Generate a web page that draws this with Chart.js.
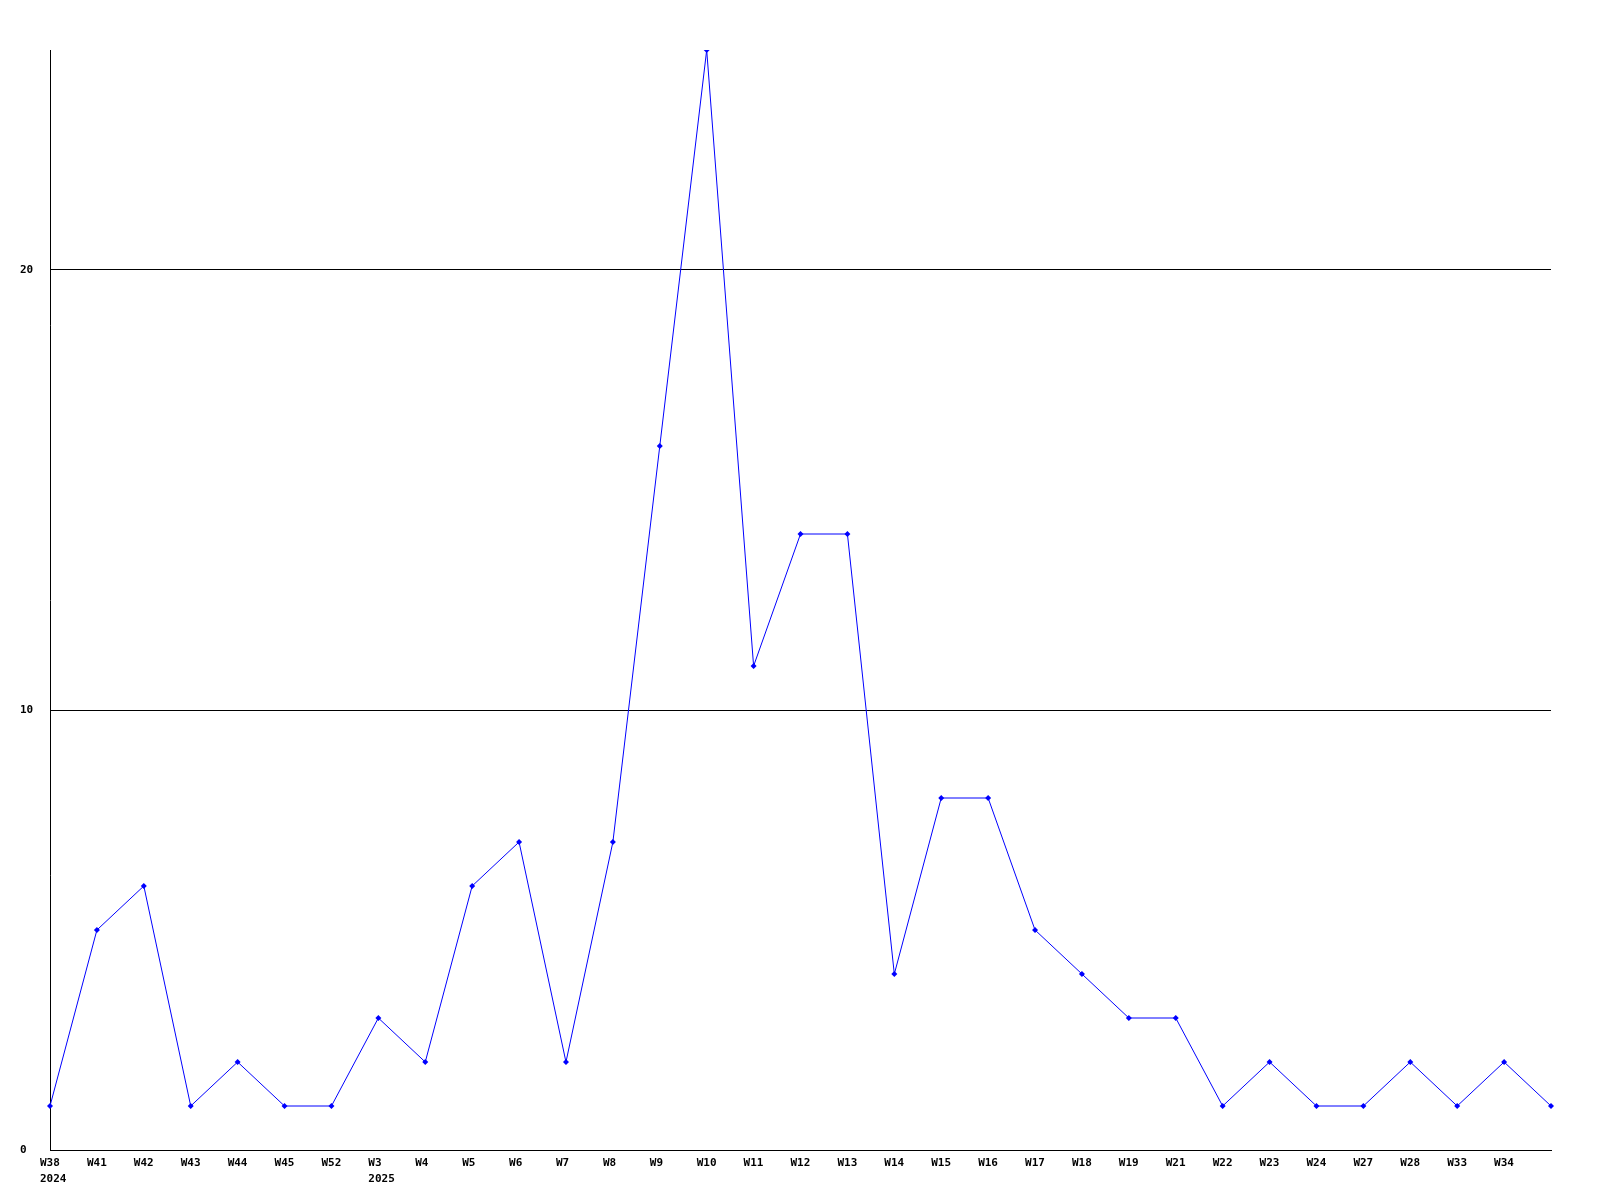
<!DOCTYPE html>
<html>
<head>
<meta charset="utf-8">
<script src="https://cdn.jsdelivr.net/npm/chart.js@4/dist/chart.umd.min.js"></script>
<style>
html,body{margin:0;padding:0;background:#fff;}
#wrap{width:1600px;height:1200px;}
</style>
</head>
<body>
<div id="wrap"><canvas id="c" width="1600" height="1200"></canvas></div>
<script>
const weeks = ['W38','W41','W42','W43','W44','W45','W52','W3','W4','W5','W6','W7','W8','W9','W10','W11','W12','W13','W14','W15','W16','W17','W18','W19','W21','W22','W23','W24','W27','W28','W33','W34',''];
const yearLabels = {0:'2024', 7:'2025'};
const counts = [1,5,6,1,2,1,1,3,2,6,7,2,7,16,25,11,14,14,4,8,8,5,4,3,3,1,2,1,1,2,1,2,1];
const yTicks = [0,10,20];

const labels = weeks.map((w,i) => yearLabels[i] ? [w, yearLabels[i]] : w);
const fontStr = 'bold 11px "DejaVu Sans Mono", monospace';
const font = {family:'"DejaVu Sans Mono", monospace', size:11, weight:'bold'};

const xLabelPlugin = {
  id:'xLabels',
  afterDraw(chart){
    const ctx = chart.ctx;
    const xs = chart.scales.x;
    ctx.save();
    ctx.font = fontStr;
    ctx.fillStyle = '#000';
    ctx.textAlign = 'left';
    ctx.textBaseline = 'middle';
    chart.data.labels.forEach((lab, i) => {
      const px = xs.getPixelForTick(i) - 10;
      const lines = Array.isArray(lab) ? lab : [lab];
      lines.forEach((t, j) => {
        ctx.fillText(t, px, xs.top + 13 + j * 16);
      });
    });
    ctx.restore();
  }
};

new Chart(document.getElementById('c'), {
  type:'line',
  data:{
    labels: labels,
    datasets:[{
      data: counts,
      borderColor:'#0000ff',
      backgroundColor:'#0000ff',
      borderWidth:1,
      pointStyle:'rectRot',
      pointRadius:3,
      pointBorderWidth:0,
      tension:0,
      fill:false
    }]
  },
  plugins:[xLabelPlugin],
  options:{
    responsive:false,
    animation:false,
    devicePixelRatio:1,
    layout:{padding:{left:20,top:50,right:49,bottom:0}},
    plugins:{legend:{display:false},tooltip:{enabled:false}},
    scales:{
      x:{
        offset:false,
        grid:{display:false, drawTicks:false},
        border:{display:true,color:'#000',width:1},
        ticks:{display:false,autoSkip:false,maxRotation:0,minRotation:0},
        afterFit(s){ s.height = 50; }
      },
      y:{
        min:0,max:25,
        grid:{color:'#000',lineWidth:1,drawTicks:false},
        border:{display:true,color:'#000',width:1},
        ticks:{color:'#000',font:font,stepSize:10,crossAlign:'far',padding:0},
        afterBuildTicks(s){ s.ticks = yTicks.map(v => ({value:v})); },
        afterFit(s){ s.width = 30; }
      }
    }
  }
});
</script>
</body>
</html>
